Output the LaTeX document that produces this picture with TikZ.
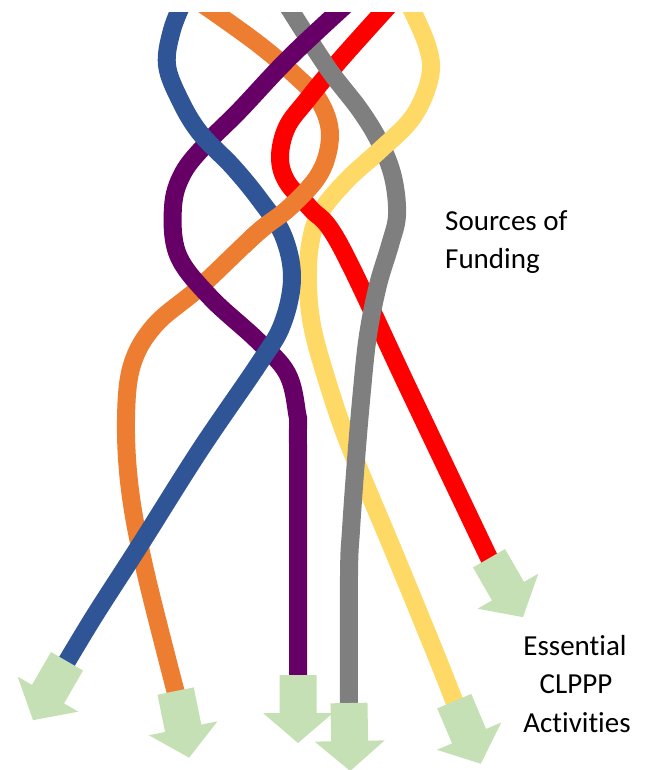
\documentclass[tikz,border=0pt]{standalone}
\usepackage{fontspec}
\setmainfont{Carlito}[Ligatures={NoCommon,NoContextual}, RawFeature={-liga;-clig;-dlig}]
\definecolor{cblue}{HTML}{2F5597}
\definecolor{corange}{HTML}{ED7D31}
\definecolor{cpurple}{HTML}{660066}
\definecolor{cgray}{HTML}{7F7F7F}
\definecolor{cred}{HTML}{FF0000}
\definecolor{cyellow}{HTML}{FFD966}
\definecolor{cgreen}{HTML}{C5E0B4}
\tikzset{
  strand/.style={line width=18pt, line cap=butt, line join=round},
  arrowfill/.style={fill=cgreen, draw=none},
  lbl/.style={font=\fontsize{29}{37}\selectfont, inner sep=0pt, anchor=base},
}
\newcommand{\greenarrow}[2]{%
  \begin{scope}[shift={(#1)}, rotate=#2]
    \fill[arrowfill] (-18.5,-2) -- (18.5,-2) -- (18.5,36) -- (35,36) -- (0,66) -- (-35,36) -- (-18.5,36) -- cycle;
  \end{scope}}
\newcommand{\bluepath}{plot[smooth, tension=0.6] coordinates {(184,0) (172,30) (167,65) (180,100) (200,133) (233,167) (260,200) (283,235) (292,278) (282,325) (258,365) (200,450) (140,545) (95,615) (66,663)}}
\newcommand{\orangepath}{plot[smooth, tension=0.6] coordinates {(201,3) (257,43) (297,77) (320,102) (330,135) (320,173) (290,207) (257,233) (200,287) (155,325) (132,365) (126,420) (130,490) (145,570) (176,693)}}
\newcommand{\purplepath}{plot[smooth, tension=0.6] coordinates {(350,1) (290,57) (240,110) (207,143) (183,173) (173,207) (178,255) (210,297) (257,340) (287,373) (297,413) (298,445) (298,677)}}
\newcommand{\graypath}{plot[smooth, tension=0.6] coordinates {(284,0) (327,67) (360,110) (380,143) (393,177) (397,215) (390,245) (378,285) (368,335) (362,390) (356,460) (351,530) (349,575) (349,705)}}
\newcommand{\redpath}{plot[smooth, tension=0.6] coordinates {(393,1) (340,60) (307,100) (287,127) (280,157) (287,182) (310,208) (340,245) (410,392) (490,560)}}
\newcommand{\yellowpath}{plot[smooth, tension=0.6] coordinates {(407,0) (427,45) (430,77) (413,117) (380,150) (347,180) (320,213) (310,245) (308,285) (313,330) (330,390) (350,447) (393,550) (434,650) (455,703)}}
\begin{document}
\begin{tikzpicture}[x=1pt, y=-1pt]
  \useasboundingbox (0,0) rectangle (645,770);
  % line ends
  \coordinate (bEnd) at (66,663);
  \coordinate (oEnd) at (176,693);
  \coordinate (pEnd) at (298,677);
  \coordinate (gEnd) at (349,705);
  \coordinate (yEnd) at (455,703);
  \coordinate (rEnd) at (490,560);
  \begin{scope}
    \clip (0,13) rectangle (645,770);
    \draw[strand, cyellow] \yellowpath;
    \draw[strand, corange] \orangepath;
    \draw[strand, cred] \redpath;
    \draw[strand, cgray] \graypath;
    \draw[strand, cpurple] \purplepath;
    \draw[strand, cblue] \bluepath;
    \begin{scope}
      \clip (245,165) rectangle (338,252);
      \draw[strand, corange] \orangepath;
    \end{scope}
    \begin{scope}
      \clip (360,112) rectangle (412,168);
      \draw[strand, cyellow] \yellowpath;
    \end{scope}
  \end{scope}
  % block arrows
  \greenarrow{bEnd}{-30}
  \greenarrow{oEnd}{11.5}
  \greenarrow{pEnd}{0}
  \greenarrow{gEnd}{1}
  \greenarrow{yEnd}{23}
  \greenarrow{rEnd}{30}
  % labels
  \node[lbl, anchor=base west] (src1) at (445,230) {Sources of};
  \node[lbl, anchor=base west] (src2) at (445,268) {Funding};
  \node[lbl] (ess1) at (575,655) {Essential};
  \node[lbl] (ess2) at (576,693) {CLPPP};
  \node[lbl] (ess3) at (577,732) {Activities};
\end{tikzpicture}
\end{document}
